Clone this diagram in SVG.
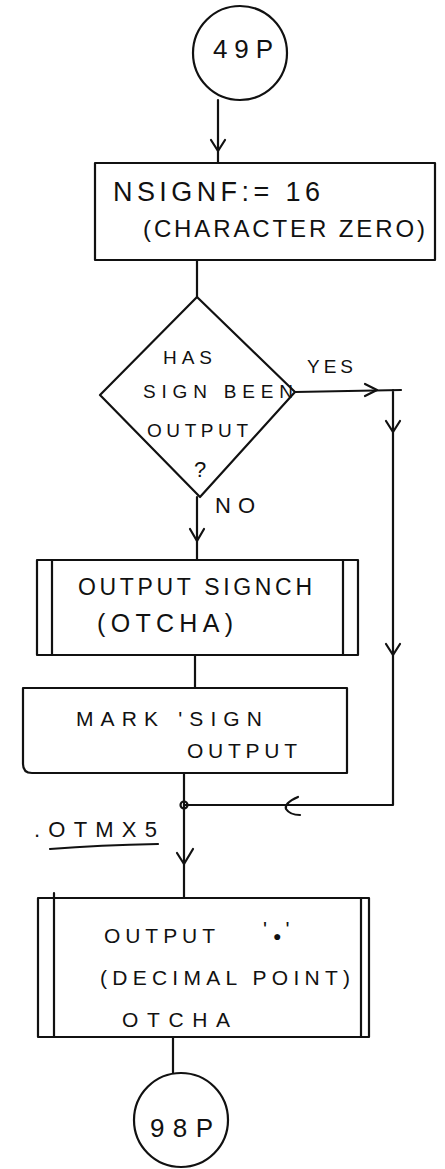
<svg xmlns="http://www.w3.org/2000/svg" width="445" height="1169" viewBox="0 0 445 1169">
<style>
.s{fill:none;stroke:#111;stroke-width:2.2;stroke-linecap:round;stroke-linejoin:round}
.t{font-family:"Liberation Sans",Arial,sans-serif;fill:#111}
</style>
<rect width="445" height="1169" fill="#fff"/>
<g id="connectors">
  <path class="s" d="M218 100 V163"/>
  <path class="s" d="M211 140 L218 151 L225 140"/>
  <path class="s" d="M197 260 V297"/>
  <path class="s" d="M295 392 L401 390 M393 390 V805 H185"/>
  <path class="s" d="M365 384 L377 390 L365 396"/>
  <path class="s" d="M386 421 L393 432 L400 421"/>
  <path class="s" d="M386 644 L393 655 L400 644"/>
  <path class="s" d="M298 797 Q284 803 286 809 Q290 815 300 815"/>
  <circle class="s" cx="184" cy="805" r="3.5"/>
  <path class="s" d="M197 497 V560"/>
  <path class="s" d="M190 529 L197 541 L204 529"/>
  <path class="s" d="M195 655 V688"/>
  <path class="s" d="M184 773 V898"/>
  <path class="s" d="M177 853 L184 864 L193 849"/>
  <path class="s" d="M173 1037 V1073"/>
</g>
<g id="start">
  <circle class="s" cx="240" cy="53" r="47"/>
  <text class="t" x="213" y="58" font-size="26" textLength="60" lengthAdjust="spacing">49P</text>
</g>
<g id="init">
  <rect class="s" x="95" y="163" width="340" height="97"/>
  <text class="t" x="113" y="201" font-size="27" textLength="207" lengthAdjust="spacing">NSIGNF:= 16</text>
  <text class="t" x="143" y="237" font-size="24" textLength="282" lengthAdjust="spacing">(CHARACTER ZERO)</text>
</g>
<g id="decision">
  <path class="s" d="M197 297 L295 392 L200 497 L100 395 Z"/>
  <text class="t" x="163" y="364" font-size="19" textLength="49" lengthAdjust="spacing">HAS</text>
  <text class="t" x="143" y="398" font-size="19" textLength="150" lengthAdjust="spacing">SIGN BEEN</text>
  <text class="t" x="147" y="437" font-size="19" textLength="101" lengthAdjust="spacing">OUTPUT</text>
  <text class="t" x="194" y="477" font-size="22">?</text>
  <text class="t" x="307" y="373" font-size="19" textLength="46" lengthAdjust="spacing">YES</text>
  <text class="t" x="215" y="513" font-size="22" textLength="40" lengthAdjust="spacing">NO</text>
</g>
<g id="outsign">
  <rect class="s" x="37" y="560" width="321" height="95"/>
  <path class="s" d="M52 560 V655 M343 560 V655"/>
  <text class="t" x="78" y="595" font-size="23" textLength="234" lengthAdjust="spacing">OUTPUT SIGNCH</text>
  <text class="t" x="97" y="632" font-size="25" textLength="136" lengthAdjust="spacing">(OTCHA)</text>
</g>
<g id="mark">
  <path class="s" d="M23 688 H347 V773 H32 Q23 773 23 764 Z"/>
  <text class="t" x="76" y="726" font-size="21" textLength="186" lengthAdjust="spacing">MARK 'SIGN</text>
  <text class="t" x="187" y="758" font-size="21" textLength="110" lengthAdjust="spacing">OUTPUT</text>
</g>
<g id="label">
  <text class="t" x="34" y="837" font-size="22" textLength="123" lengthAdjust="spacing">.OTMX5</text>
  <path class="s" d="M50 849 Q100 845 158 844"/>
</g>
<g id="outpoint">
  <rect class="s" x="38" y="898" width="331" height="139"/>
  <path class="s" d="M54 893 V1037 M361 898 V1037"/>
  <text class="t" x="104" y="943" font-size="21" textLength="111" lengthAdjust="spacing">OUTPUT</text>
  <text class="t" x="263" y="936" font-size="21">'<tspan dx="6" dy="5" font-size="14">●</tspan><tspan dx="4" dy="-5">'</tspan></text>
  <text class="t" x="100" y="985" font-size="21" textLength="250" lengthAdjust="spacing">(DECIMAL POINT)</text>
  <text class="t" x="122" y="1027" font-size="21" textLength="108" lengthAdjust="spacing">OTCHA</text>
</g>
<g id="end">
  <circle class="s" cx="181" cy="1120" r="47"/>
  <text class="t" x="150" y="1137" font-size="26" textLength="63" lengthAdjust="spacing">98P</text>
</g>
</svg>
